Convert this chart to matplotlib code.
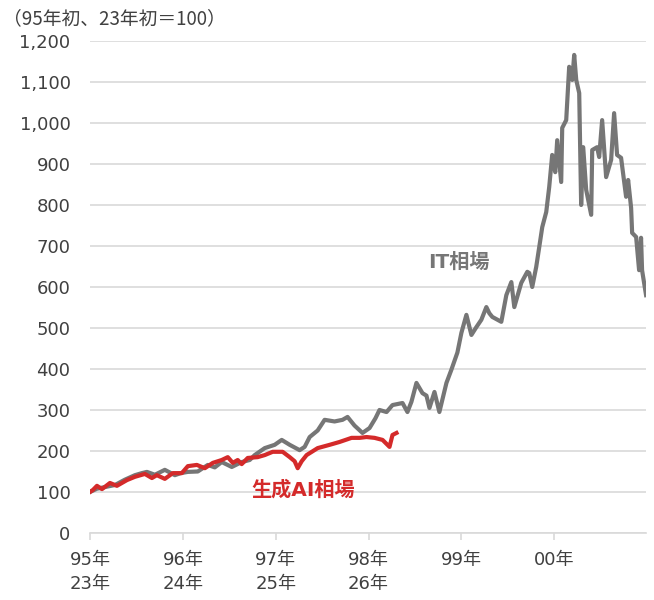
import matplotlib
matplotlib.use('Agg')
import matplotlib.pyplot as plt

plt.rcParams['font.family'] = ['DejaVu Sans', 'Noto Sans CJK JP']

# years elapsed since start (95年初 / 23年初)
it_t = [0.000, 0.075, 0.161, 0.269, 0.376, 0.484, 0.559, 0.613, 0.699, 0.806,
        0.914, 0.978, 1.054, 1.161, 1.269, 1.344, 1.419, 1.527, 1.634, 1.720,
        1.774, 1.882, 1.989, 2.065, 2.151, 2.258, 2.312, 2.366, 2.452, 2.527,
        2.634, 2.720, 2.774, 2.849, 2.935, 3.011, 3.075, 3.118, 3.194, 3.258,
        3.366, 3.419, 3.462, 3.516, 3.581, 3.624, 3.656, 3.710, 3.763, 3.839,
        3.892, 3.957, 4.000, 4.054, 4.108, 4.161, 4.215, 4.269, 4.301, 4.333,
        4.430, 4.484, 4.538, 4.570, 4.645, 4.710, 4.731, 4.763, 4.806, 4.839,
        4.871, 4.914, 4.946, 4.978, 5.011, 5.032, 5.075, 5.086, 5.129, 5.161,
        5.194, 5.215, 5.237, 5.269, 5.290, 5.312, 5.344, 5.398, 5.409, 5.462,
        5.484, 5.516, 5.559, 5.613, 5.645, 5.677, 5.720, 5.774, 5.796, 5.828,
        5.839, 5.882, 5.914, 5.935, 5.946, 5.989]
it_v = [100, 108, 112, 117, 130, 141, 146, 149, 142, 154,
        141, 146, 149, 150, 166, 160, 173, 161, 173, 178,
        190, 207, 215, 227, 215, 202, 210, 234, 250, 276,
        272, 276, 283, 262, 244, 256, 280, 300, 295, 312,
        317, 295, 320, 366, 341, 335, 305, 344, 295, 366,
        398, 440, 488, 532, 483, 502, 520, 551, 536, 527,
        515, 580, 612, 551, 610, 637, 634, 600, 649, 698,
        746, 783, 844, 922, 880, 958, 856, 988, 1007, 1137,
        1105, 1166, 1105, 1073, 800, 941, 837, 776, 934, 941,
        917, 1007, 868, 910, 1024, 922, 915, 820, 861, 793,
        732, 722, 641, 720, 641, 580]

ai_t = [0.000, 0.032, 0.075, 0.129, 0.215, 0.290, 0.398, 0.484, 0.591, 0.667,
        0.720, 0.806, 0.892, 0.989, 1.054, 1.151, 1.237, 1.323, 1.419, 1.484,
        1.538, 1.591, 1.634, 1.699, 1.806, 1.882, 1.968, 2.075, 2.151, 2.204,
        2.237, 2.280, 2.333, 2.452, 2.581, 2.688, 2.817, 2.903, 2.978, 3.065,
        3.151, 3.226, 3.258, 3.301]
ai_v = [100, 105, 115, 107, 122, 115, 129, 137, 144, 134,
        141, 132, 146, 146, 163, 166, 158, 171, 178, 185,
        171, 178, 168, 183, 185, 190, 198, 198, 185, 175,
        158, 175, 190, 207, 215, 222, 232, 232, 234, 232,
        227, 210, 239, 244]

tick_pos = [0, 1, 2, 3, 4, 5]
tick_labels = ['95年\n23年', '96年\n24年', '97年\n25年', '98年\n26年', '99年', '00年']
y_ticks = list(range(0, 1300, 100))

gray = '#767676'
red = '#d42a2a'
txt = '#404040'

fig = plt.figure(figsize=(6.54, 6.00), dpi=100)
ax = fig.add_axes([0.1376, 0.1117, 0.8504, 0.82])

ax.plot(it_t, it_v, color=gray, lw=3, solid_joinstyle='round', zorder=3)
ax.plot(ai_t, ai_v, color=red, lw=3, solid_joinstyle='round', zorder=4)

ax.set_xlim(0, 5.99)
ax.set_ylim(0, 1200)
ax.set_yticks(y_ticks)
ax.set_yticklabels([f'{v:,}' for v in y_ticks])
ax.set_xticks(tick_pos)
ax.set_xticklabels(tick_labels, linespacing=1.4)
ax.yaxis.grid(True, color='#d9d9d9', lw=1.2)
ax.set_axisbelow(True)

for s in ['top', 'right', 'left']:
    ax.spines[s].set_visible(False)
ax.spines['bottom'].set_color('#d9d9d9')
ax.spines['bottom'].set_linewidth(1.2)
ax.tick_params(axis='y', length=0, pad=14, labelsize=13, labelcolor=txt)
ax.tick_params(axis='x', length=5, color='#d9d9d9', width=1.2, pad=8,
               labelsize=13, labelcolor=txt)

ax.text(3.97, 661, 'IT相場', color=gray, fontsize=14.5, fontweight='bold',
        ha='center', va='center')
ax.text(2.30, 105, '生成AI相場', color=red, fontsize=14.5, fontweight='bold',
        ha='center', va='center')

fig.text(0.005, 0.968, '（95年初、23年初＝100）', fontsize=13.5, color=txt,
         ha='left', va='center', family=['Noto Sans CJK JP', 'DejaVu Sans'])

fig.savefig('out.png', dpi=100)
